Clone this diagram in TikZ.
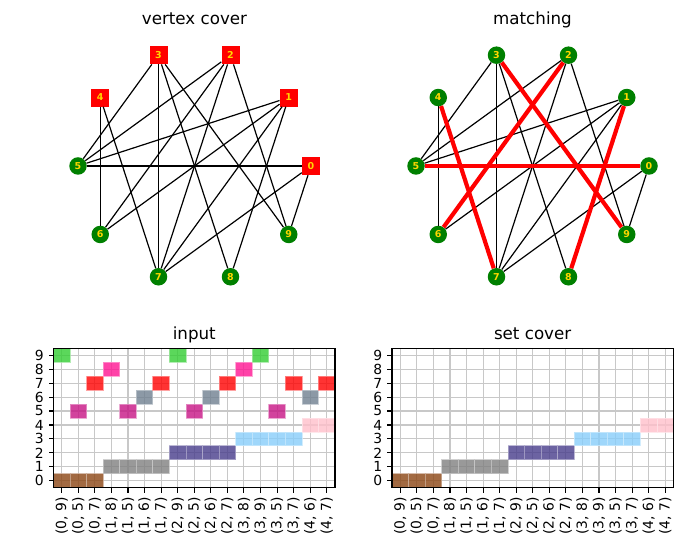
\documentclass[tikz,border=0pt]{standalone}
\usepackage{fontspec}
\setmainfont{DejaVu Sans}
\usepackage{tikz}
\usetikzlibrary{positioning}

\definecolor{nodegreen}{RGB}{0,128,0}
\definecolor{labelgold}{RGB}{255,215,0}
\definecolor{gridgray}{RGB}{200,200,200}
% one colour per vertex
\definecolor{vc0}{RGB}{139,69,19}
\definecolor{vc1}{RGB}{128,128,128}
\definecolor{vc2}{RGB}{72,61,139}
\definecolor{vc3}{RGB}{135,206,250}
\definecolor{vc4}{RGB}{255,192,203}
\definecolor{vc5}{RGB}{199,21,133}
\definecolor{vc6}{RGB}{112,128,144}
\definecolor{vc7}{RGB}{255,0,0}
\definecolor{vc8}{RGB}{255,20,147}
\definecolor{vc9}{RGB}{50,205,50}

\tikzset{
  coverv/.style={rectangle, fill=red, minimum size=18pt, inner sep=0pt, text=labelgold, font=\fontsize{9.5}{9.5}\selectfont\bfseries},
  freev/.style={circle, fill=nodegreen, minimum size=17.5pt, inner sep=0pt, text=labelgold, font=\fontsize{9.5}{9.5}\selectfont\bfseries},
  gedge/.style={black, line width=1.2pt},
  medge/.style={red, line width=4.2pt},
  plottitle/.style={anchor=base, inner sep=0pt, font=\fontsize{16.7}{20}\selectfont},
  ticklab/.style={inner sep=0pt, font=\fontsize{13.9}{16}\selectfont},
  gridline/.style={gridgray, line width=1.1pt},
  axframe/.style={black, line width=1.1pt},
  axtick/.style={black, line width=1.1pt},
  setcell/.style={fill=#1, fill opacity=0.8, draw=#1!45!white, draw opacity=0.8, line width=0.8pt}
}

\begin{document}
\begin{tikzpicture}[x=1pt, y=1pt]
\useasboundingbox[fill=white] (0,0) rectangle (686,545);

% vertex cover
\node[plottitle] (tvc) at (194.5,520.7) {vertex cover};
\begin{scope}[shift={(194.5,379)}]
\node[coverv] (c0) at (0:116.5) {0};
\node[coverv] (c1) at (36:116.5) {1};
\node[coverv] (c2) at (72:116.5) {2};
\node[coverv] (c3) at (108:116.5) {3};
\node[coverv] (c4) at (144:116.5) {4};
\node[freev] (c5) at (180:116.5) {5};
\node[freev] (c6) at (216:116.5) {6};
\node[freev] (c7) at (252:116.5) {7};
\node[freev] (c8) at (288:116.5) {8};
\node[freev] (c9) at (324:116.5) {9};
\end{scope}
\draw[gedge] (c0) -- (c9);
\draw[gedge] (c0) -- (c5);
\draw[gedge] (c0) -- (c7);
\draw[gedge] (c1) -- (c8);
\draw[gedge] (c1) -- (c5);
\draw[gedge] (c1) -- (c6);
\draw[gedge] (c1) -- (c7);
\draw[gedge] (c2) -- (c9);
\draw[gedge] (c2) -- (c5);
\draw[gedge] (c2) -- (c6);
\draw[gedge] (c2) -- (c7);
\draw[gedge] (c3) -- (c8);
\draw[gedge] (c3) -- (c9);
\draw[gedge] (c3) -- (c5);
\draw[gedge] (c3) -- (c7);
\draw[gedge] (c4) -- (c6);
\draw[gedge] (c4) -- (c7);

% matching
\node[plottitle] (tmt) at (532.5,520.7) {matching};
\begin{scope}[shift={(532.5,379)}]
\node[freev] (m0) at (0:116.5) {0};
\node[freev] (m1) at (36:116.5) {1};
\node[freev] (m2) at (72:116.5) {2};
\node[freev] (m3) at (108:116.5) {3};
\node[freev] (m4) at (144:116.5) {4};
\node[freev] (m5) at (180:116.5) {5};
\node[freev] (m6) at (216:116.5) {6};
\node[freev] (m7) at (252:116.5) {7};
\node[freev] (m8) at (288:116.5) {8};
\node[freev] (m9) at (324:116.5) {9};
\end{scope}
\draw[gedge] (m0) -- (m9);
\draw[gedge] (m0) -- (m7);
\draw[gedge] (m1) -- (m5);
\draw[gedge] (m1) -- (m6);
\draw[gedge] (m1) -- (m7);
\draw[gedge] (m2) -- (m9);
\draw[gedge] (m2) -- (m5);
\draw[gedge] (m2) -- (m7);
\draw[gedge] (m3) -- (m8);
\draw[gedge] (m3) -- (m5);
\draw[gedge] (m3) -- (m7);
\draw[gedge] (m4) -- (m6);
\draw[medge] (m0) -- (m5);
\draw[medge] (m1) -- (m8);
\draw[medge] (m2) -- (m6);
\draw[medge] (m3) -- (m9);
\draw[medge] (m4) -- (m7);

% input
\node[plottitle] (tin) at (194.25,205) {input};
\begin{scope}[shift={(61.78,64.27)}, x=16.56pt, y=13.94pt]
\foreach \j in {0,...,9} {
  \draw[gridline] (-0.5,\j) -- (16.5,\j);
  \draw[axtick] (-0.5,\j) -- ++(-4.9pt,0);
  \path (-0.5,\j) ++(-9.7pt,0) node[ticklab, anchor=east] (ya\j) {\j};
}
\foreach \a/\b [count=\c from 0] in {0/9,0/5,0/7,1/8,1/5,1/6,1/7,2/9,2/5,2/6,2/7,3/8,3/9,3/5,3/7,4/6,4/7} {
  \draw[gridline] (\c,-0.5) -- (\c,9.5);
  \draw[axtick] (\c,-0.5) -- ++(0,-4.9pt);
  \path (\c,-0.5) ++(0,-9.5pt) node[ticklab, rotate=90, anchor=east] (xa\c) {(\a, \b)};
}
\foreach \a/\b [count=\c from 0] in {0/9,0/5,0/7,1/8,1/5,1/6,1/7,2/9,2/5,2/6,2/7,3/8,3/9,3/5,3/7,4/6,4/7} {
  \draw[setcell=vc\a] (\c-0.5,\a-0.5) rectangle ++(1,1);
  \draw[setcell=vc\b] (\c-0.5,\b-0.5) rectangle ++(1,1);
}
\draw[axframe] (-0.5,-0.5) rectangle (16.5,9.5);
\end{scope}

% set cover
\node[plottitle] (tsc) at (532.65,205) {set cover};
\begin{scope}[shift={(400.28,64.27)}, x=16.56pt, y=13.94pt]
\foreach \j in {0,...,9} {
  \draw[gridline] (-0.5,\j) -- (16.5,\j);
  \draw[axtick] (-0.5,\j) -- ++(-4.9pt,0);
  \path (-0.5,\j) ++(-9.7pt,0) node[ticklab, anchor=east] (yb\j) {\j};
}
\foreach \a/\b [count=\c from 0] in {0/9,0/5,0/7,1/8,1/5,1/6,1/7,2/9,2/5,2/6,2/7,3/8,3/9,3/5,3/7,4/6,4/7} {
  \draw[gridline] (\c,-0.5) -- (\c,9.5);
  \draw[axtick] (\c,-0.5) -- ++(0,-4.9pt);
  \path (\c,-0.5) ++(0,-9.5pt) node[ticklab, rotate=90, anchor=east] (xb\c) {(\a, \b)};
}
\foreach \a/\b [count=\c from 0] in {0/9,0/5,0/7,1/8,1/5,1/6,1/7,2/9,2/5,2/6,2/7,3/8,3/9,3/5,3/7,4/6,4/7} {
  \draw[setcell=vc\a] (\c-0.5,\a-0.5) rectangle ++(1,1);
}
\draw[axframe] (-0.5,-0.5) rectangle (16.5,9.5);
\end{scope}
\end{tikzpicture}
\end{document}
